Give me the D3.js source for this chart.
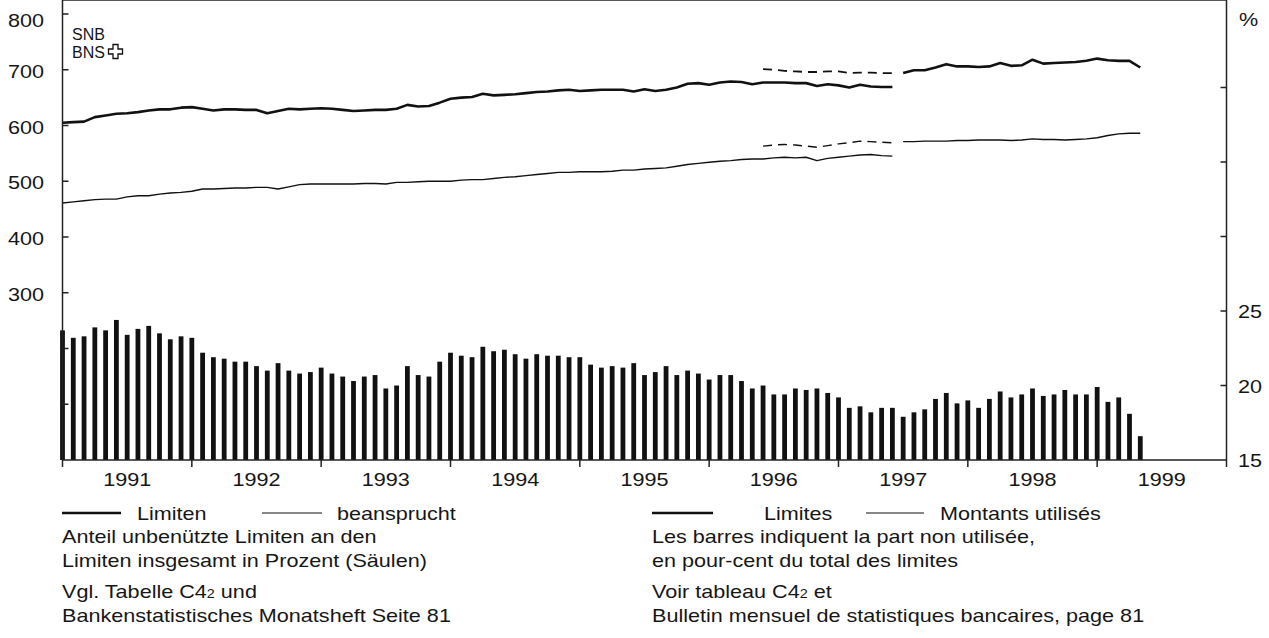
<!DOCTYPE html>
<html>
<head>
<meta charset="utf-8">
<title>SNB Limiten</title>
<style>
body { margin: 0; background: #fff; }
text { font-family: "Liberation Sans", Arial, sans-serif; fill: #161616; }
.bar { fill: #111; }
.line { fill: none; stroke: #111; stroke-linejoin: round; }
.thick { stroke-width: 2.6px; }
.thin { stroke-width: 1.4px; }
.frame line { stroke: #222; stroke-width: 1.5px; }
</style>
<script src="https://cdnjs.cloudflare.com/ajax/libs/d3/7.8.5/d3.min.js"></script>
</head>
<body>
<svg width="1269" height="638"></svg>
<script>
// months counted from Dec 1990 (index 0) to Apr 1999 (index 100)
var years = ["1991", "1992", "1993", "1994", "1995", "1996", "1997", "1998", "1999"];

// unused share of limits in %, bars, Dec 1990 .. Apr 1999
var unusedPct = [
  23.7, 23.2, 23.3, 23.9, 23.7, 24.4, 23.4, 23.8, 24.0, 23.5, 23.1, 23.3, 23.2,
  22.2, 21.9, 21.8, 21.6, 21.6, 21.3, 21.0, 21.5, 21.0, 20.8, 20.9, 21.2,
  20.8, 20.6, 20.3, 20.6, 20.7, 19.8, 20.0, 21.3, 20.7, 20.6, 21.6, 22.2,
  22.0, 21.9, 22.6, 22.3, 22.4, 22.1, 21.8, 22.1, 22.0, 22.0, 21.9, 21.9,
  21.4, 21.2, 21.3, 21.2, 21.5, 20.7, 20.9, 21.3, 20.7, 21.0, 20.8, 20.4,
  20.7, 20.7, 20.3, 19.8, 20.0, 19.4, 19.4, 19.8, 19.7, 19.8, 19.5, 19.2,
  18.5, 18.6, 18.2, 18.5, 18.5, 17.9, 18.2, 18.4, 19.1, 19.5, 18.8, 19.0,
  18.5, 19.1, 19.6, 19.2, 19.4, 19.8, 19.3, 19.4, 19.7, 19.4, 19.4, 19.9,
  18.9, 19.2, 18.1, 16.6
];

// old series, Dec 1990 .. May 1997 (Mio. Fr.)
var limitsOld = [
  605, 606, 607, 615, 618, 621, 622, 624, 627, 629, 629, 632, 633,
  630, 627, 629, 629, 628, 628, 622, 626, 630, 629, 630, 631,
  630, 628, 626, 627, 628, 628, 630, 637, 634, 635, 641, 648,
  650, 651, 657, 654, 655, 656, 658, 660, 661, 663, 664, 662,
  663, 664, 664, 664, 661, 665, 662, 664, 668, 675, 676, 673,
  677, 679, 678, 674, 677, 677, 677, 676, 676, 671, 674, 672,
  668, 673, 670, 669, 669
];
var usedOld = [
  461, 463, 465, 467, 468, 468, 472, 474, 474, 477, 479, 480, 482,
  486, 486, 487, 488, 488, 489, 489, 486, 490, 494, 495, 495,
  495, 495, 495, 496, 496, 495, 498, 498, 499, 500, 500, 500,
  502, 503, 503, 505, 507, 508, 510, 512, 514, 516, 516, 517,
  517, 517, 518, 520, 520, 522, 523, 524, 527, 530, 532, 534,
  536, 537, 539, 540, 540, 542, 543, 542, 543, 537, 541, 543,
  545, 547, 548, 546, 545
];

// new series, May 1996 .. Apr 1999 (dashed while it overlaps the old one)
var newStart = 65, overlapEnd = 77;
var limitsNew = [
  701, 700, 698, 697, 696, 696, 697, 697, 694, 695, 695, 694, 694,
  694, 699, 699, 704, 710, 706, 706, 705, 706, 712, 707, 708,
  718, 711, 712, 713, 714, 716, 720, 717, 716, 716, 704
];
var usedNew = [
  563, 565, 566, 565, 563, 561, 564, 567, 569, 572, 571, 570, 569,
  571, 571, 572, 572, 572, 573, 573, 574, 574, 574, 573, 574,
  576, 575, 575, 574, 575, 576, 578, 582, 585, 586, 586
];

var leftTicks = [100, 200, 300, 400, 500, 600, 700, 800],
    leftLabels = [300, 400, 500, 600, 700, 800],
    rightTicks = [20, 25, 30, 35, 40],
    rightLabels = [15, 20, 25];

var svg = d3.select("svg"),
    left = 62.5, right = 1226.5, top = 12, bottom = 460,
    sx = 1.2; // the scanned lettering is wider than Arial

var x = d3.scaleLinear().domain([0, 108]).range([left, right]),
    yL = d3.scaleLinear().domain([0, 800]).range([bottom, 14]),
    yR = d3.scaleLinear().domain([15, 45]).range([bottom, 13]);

function label(g, tx, ty, txt, anchor, size, scale) {
  return g.append("text")
      .attr("transform", "translate(" + tx + "," + ty + ") scale(" + (scale || sx) + ",1)")
      .attr("text-anchor", anchor || "start")
      .style("font-size", (size || 18) + "px")
      .text(txt);
}

// bars
svg.append("g").selectAll("rect")
    .data(unusedPct)
  .enter().append("rect")
    .attr("class", "bar")
    .attr("x", function(d, i) { return x(i) - 2.4; })
    .attr("width", 4.8)
    .attr("y", function(d) { return yR(d); })
    .attr("height", function(d) { return bottom - yR(d); });

// lines
var line = d3.line()
    .x(function(d) { return x(d.i); })
    .y(function(d) { return yL(d.v); });

function pts(arr, offset) {
  return arr.map(function(v, k) { return {i: k + offset, v: v}; });
}

var lim2 = pts(limitsNew, newStart), used2 = pts(usedNew, newStart),
    cut = overlapEnd - newStart + 1;

svg.append("path").attr("class", "line thick").attr("d", line(pts(limitsOld, 0)));
svg.append("path").attr("class", "line thin").attr("d", line(pts(usedOld, 0)));
svg.append("path").attr("class", "line thick").style("stroke-width", "1.8px")
    .attr("stroke-dasharray", "9,6").attr("d", line(lim2.slice(0, cut)));
svg.append("path").attr("class", "line thin")
    .attr("stroke-dasharray", "9,6").attr("d", line(used2.slice(0, cut)));
svg.append("path").attr("class", "line thick").attr("d", line(lim2.slice(cut)));
svg.append("path").attr("class", "line thin").attr("d", line(used2.slice(cut)));

// frame and ticks
var frame = svg.append("g").attr("class", "frame");
frame.append("line").attr("x1", left).attr("x2", right).attr("y1", top).attr("y2", top);
frame.append("line").attr("x1", left).attr("x2", right).attr("y1", bottom).attr("y2", bottom);
frame.append("line").attr("x1", left).attr("x2", left).attr("y1", top).attr("y2", bottom);
frame.append("line").attr("x1", right).attr("x2", right).attr("y1", top).attr("y2", bottom);

frame.selectAll(".lt").data(leftTicks).enter().append("line")
    .attr("x1", left).attr("x2", left + 6)
    .attr("y1", function(d) { return yL(d); }).attr("y2", function(d) { return yL(d); });
frame.selectAll(".rt").data(rightTicks).enter().append("line")
    .attr("x1", right - 6).attr("x2", right)
    .attr("y1", function(d) { return yR(d); }).attr("y2", function(d) { return yR(d); });
frame.selectAll(".xt").data(d3.range(0, years.length + 1)).enter().append("line")
    .attr("x1", function(d) { return x(d * 12); }).attr("x2", function(d) { return x(d * 12); })
    .attr("y1", bottom).attr("y2", bottom + 7);

var labels = svg.append("g");
leftLabels.forEach(function(d) { label(labels, 44, Math.max(yL(d) + 8, 27), d, "end"); });
rightLabels.forEach(function(d) { label(labels, 1238, yR(d) + 7, d); });
label(labels, 1239, 26, "%");
years.forEach(function(d, k) { label(labels, x(k * 12 + 6), 486, d, "middle"); });

// logo, tight lettering and an outlined cross
label(labels, 72, 40, "SNB", "start", 16, 1);
label(labels, 72, 58, "BNS", "start", 16, 1);
svg.append("path")
    .attr("transform", "translate(115.5,51.5)")
    .attr("d", "M-2.5,-7H2.5V-2.5H7V2.5H2.5V7H-2.5V2.5H-7V-2.5H-2.5Z")
    .attr("fill", "none").attr("stroke", "#111").attr("stroke-width", 1.3);

// legend
var leg = svg.append("g");
function legLine(x1, x2, w) {
  leg.append("line").attr("x1", x1).attr("x2", x2).attr("y1", 513).attr("y2", 513)
      .attr("stroke", "#111").attr("stroke-width", w);
}
legLine(62, 121, 2.6); label(leg, 137, 520, "Limiten");
legLine(262, 322, 1.2); label(leg, 337, 520, "beansprucht");
legLine(652, 713, 2.6); label(leg, 764, 520, "Limites");
legLine(866, 924, 1.2); label(leg, 940, 520, "Montants utilisés");

var notes = [
  [62, 543, "Anteil unbenützte Limiten an den"],
  [62, 567, "Limiten insgesamt in Prozent (Säulen)"],
  [652, 543, "Les barres indiquent la part non utilisée,"],
  [652, 567, "en pour-cent du total des limites"],
  [62, 622, "Bankenstatistisches Monatsheft Seite 81"],
  [652, 622, "Bulletin mensuel de statistiques bancaires, page 81"]
];
notes.forEach(function(n) { label(leg, n[0], n[1], n[2]); });

function withSub(tx, ty, before, after) {
  var t = label(leg, tx, ty, "");
  t.append("tspan").text(before);
  t.append("tspan").style("font-size", "12px").text("2");
  t.append("tspan").text(after);
}
withSub(62, 598, "Vgl. Tabelle C4", " und");
withSub(652, 598, "Voir tableau C4", " et");
</script>
</body>
</html>
